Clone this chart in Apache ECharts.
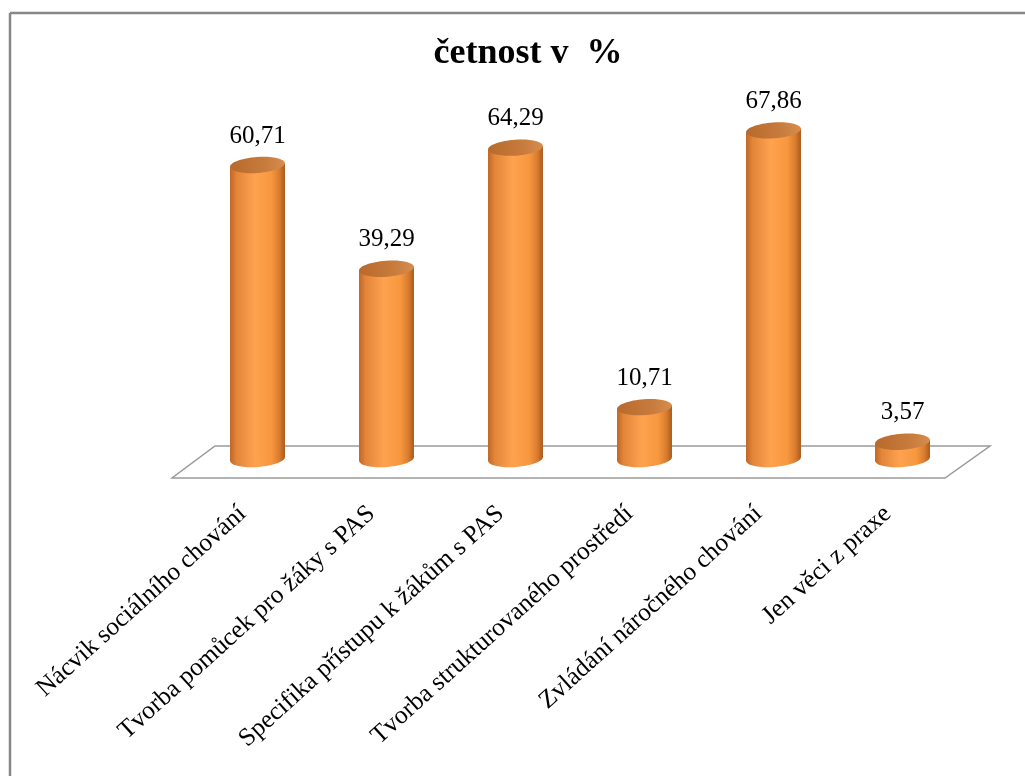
<!DOCTYPE html>
<html>
<head>
<meta charset="utf-8">
<style>
  html, body { margin: 0; padding: 0; background: #fff; }
  #chart { width: 1025px; height: 776px; }
</style>
<script src="https://cdn.jsdelivr.net/npm/echarts@6/dist/echarts.min.js"></script>
</head>
<body>
<div id="chart"></div>
<script>
// Categories and percentage values
const categories = [
  'Nácvik sociálního chování',
  'Tvorba pomůcek pro žáky s PAS',
  'Specifika přístupu k žákům s PAS',
  'Tvorba strukturovaného prostředí',
  'Zvládání náročného chování',
  'Jen věci z praxe'
];
const values = [60.71, 39.29, 64.29, 10.71, 67.86, 3.57];
const titleText = 'četnost v  %';

const FONT = '"Liberation Serif", "Times New Roman", serif';
const TILT = 0.07; // slight perspective tilt of the ellipses

const bodyGradient = new echarts.graphic.LinearGradient(0, 0, 1, 0, [
  { offset: 0, color: '#bf6724' },
  { offset: 0.12, color: '#e3853a' },
  { offset: 0.45, color: '#ffa24f' },
  { offset: 0.75, color: '#f7983f' },
  { offset: 0.9, color: '#d97b2f' },
  { offset: 1, color: '#a85a1e' }
]);
const topGradient = new echarts.graphic.LinearGradient(0, 0, 1, 0, [
  { offset: 0, color: '#b76a2c' },
  { offset: 0.6, color: '#c67a3b' },
  { offset: 1, color: '#d58d4d' }
]);

function renderCylinder(params, api) {
  const idx = api.value(0);
  const val = api.value(1);
  const top = api.coord([idx, val]);
  const base = api.coord([idx, 0]);
  const band = api.size([1, 0])[0];
  const rx = band * 0.213;
  const ry = 8;
  const cx = top[0];
  const ty = top[1];
  const by = base[1];
  const d = rx * Math.sin(TILT);
  return {
    type: 'group',
    children: [
      {
        type: 'ellipse',
        x: cx, y: by, rotation: TILT,
        shape: { cx: 0, cy: 0, rx: rx, ry: ry },
        style: { fill: bodyGradient }
      },
      {
        type: 'polygon',
        shape: { points: [[cx - rx, ty + d], [cx + rx, ty - d], [cx + rx, by - d], [cx - rx, by + d]] },
        style: { fill: bodyGradient }
      },
      {
        type: 'ellipse',
        x: cx, y: ty, rotation: TILT,
        shape: { cx: 0, cy: 0, rx: rx, ry: ry },
        style: { fill: topGradient }
      },
      {
        type: 'text',
        style: {
          text: val.toFixed(2).replace('.', ','),
          x: cx, y: ty - 29,
          align: 'center', verticalAlign: 'middle',
          fontSize: 25, fontFamily: FONT, fill: '#000'
        }
      }
    ]
  };
}

function renderFloor(params, api) {
  const cs = params.coordSys;
  const baseY = api.coord([0, 0])[1];
  const left = cs.x, right = cs.x + cs.width;
  const backY = baseY - 13, frontY = baseY + 19;
  return {
    type: 'polygon',
    shape: { points: [[left + 22, backY], [right + 23, backY], [right - 22, frontY], [left - 21, frontY]] },
    style: { fill: '#fff', stroke: '#9a9a9a', lineWidth: 1.5 }
  };
}

const chart = echarts.init(document.getElementById('chart'), null, { renderer: 'canvas' });
chart.setOption({
  animation: false,
  backgroundColor: '#fff',
  title: {
    text: titleText,
    left: 523, top: 31, textAlign: 'center',
    textStyle: { fontFamily: FONT, fontWeight: 'bold', fontSize: 36, color: '#000' }
  },
  graphic: [
    { type: 'line', shape: { x1: 10, y1: 13, x2: 1025, y2: 13 }, style: { stroke: '#878787', lineWidth: 2.5 } },
    { type: 'line', shape: { x1: 10, y1: 13, x2: 10, y2: 776 }, style: { stroke: '#878787', lineWidth: 2.5 } }
  ],
  grid: { left: 193, width: 774, top: 120, height: 339 },
  xAxis: {
    type: 'category',
    data: categories,
    axisLine: { show: false },
    axisTick: { show: false },
    axisLabel: {
      interval: 0, rotate: 42, margin: 38, padding: [0, 20, 0, 0],
      fontFamily: FONT, fontSize: 25.5, color: '#000'
    }
  },
  yAxis: {
    type: 'value', min: 0, max: 70, show: false,
    splitLine: { show: false }
  },
  series: [
    {
      type: 'custom', z: 1, clip: false,
      renderItem: renderFloor,
      data: [[0, 0]],
      encode: { x: 0, y: 1 },
      silent: true
    },
    {
      type: 'custom', z: 2, clip: false,
      renderItem: renderCylinder,
      data: values.map((v, i) => [i, v]),
      encode: { x: 0, y: 1 }
    }
  ]
});
</script>
</body>
</html>
